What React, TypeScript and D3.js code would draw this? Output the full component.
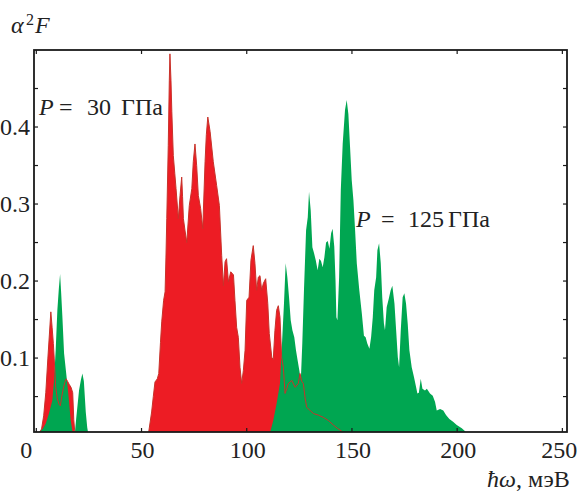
import React from "react";
import * as d3 from "d3";

// Eliashberg spectral function alpha^2F(omega), energies in meV
const redSeries: [number, number][] = [
  [1.0, 0], [2.5, 0.008], [3.5, 0.025], [4.5, 0.055], [5.5, 0.1], [6.2, 0.13], [6.9, 0.16],
  [7.5, 0.14], [8.1, 0.119], [8.5, 0.1], [9.2, 0.062], [10.0, 0.047], [10.8, 0.04], [11.4, 0.038],
  [12.1, 0.05], [12.8, 0.06], [13.5, 0.068], [14.2, 0.073], [14.8, 0.07], [15.6, 0.066], [16.5, 0.062],
  [17.3, 0.055], [17.8, 0.02], [18.4, 0], [52.8, 0],
  [53.2, 0], [54.8, 0.03], [55.6, 0.05], [56.4, 0.069], [57.5, 0.073], [58.2, 0.08], [59.0, 0.12],
  [59.6, 0.147], [60.5, 0.175], [61.2, 0.186], [61.6, 0.23], [62.0, 0.281], [62.7, 0.376], [63.2, 0.46],
  [63.5, 0.495], [64.0, 0.46], [64.4, 0.42], [65.1, 0.363], [65.8, 0.34], [66.4, 0.32], [67.5, 0.281],
  [68.3, 0.311], [69.1, 0.335], [69.5, 0.31], [69.9, 0.281], [70.7, 0.265], [71.5, 0.25], [72.7, 0.298],
  [73.9, 0.32], [74.6, 0.355], [75.4, 0.378], [76.2, 0.35], [77.0, 0.311], [78.1, 0.294], [79.1, 0.268],
  [80.2, 0.355], [80.8, 0.39], [81.5, 0.413], [82.6, 0.394], [84.1, 0.355], [85.7, 0.324], [87.0, 0.298],
  [88.1, 0.233], [88.9, 0.194], [89.7, 0.225], [90.4, 0.229], [91.3, 0.199], [92.4, 0.212], [93.7, 0.208],
  [94.4, 0.175], [95.2, 0.14], [96.0, 0.127], [96.8, 0.088], [97.6, 0.067], [98.4, 0.084], [99.2, 0.11],
  [100.0, 0.175], [101.1, 0.179], [102.0, 0.227], [103.1, 0.246], [103.9, 0.223], [104.7, 0.188],
  [105.5, 0.205], [106.3, 0.207], [107.1, 0.188], [107.9, 0.197], [109.0, 0.203], [110.0, 0.171],
  [110.7, 0.132], [111.9, 0.101], [112.6, 0.098], [113.4, 0.136], [114.2, 0.162], [115.0, 0.168],
  [115.8, 0.153], [116.6, 0.101], [117.4, 0.088], [118.2, 0.054], [119.0, 0.06], [119.8, 0.067],
  [121.4, 0.071], [123.0, 0.062], [124.5, 0.067], [125.3, 0.08], [126.1, 0.07], [126.9, 0.067],
  [127.7, 0.049], [128.5, 0.036], [130.1, 0.032], [131.7, 0.028], [134.0, 0.026], [136.4, 0.023],
  [138.8, 0.019], [141.2, 0.013], [143.0, 0.009], [145.2, 0.005], [146.0, 0],
];

const greenSeries: [number, number][] = [
  [1.0, 0], [1.5, 0.005], [3.0, 0.008], [4.5, 0.015], [6.0, 0.028], [7.6, 0.045], [8.4, 0.07],
  [9.2, 0.11], [10.0, 0.162], [10.7, 0.19], [11.3, 0.209], [11.8, 0.185], [12.4, 0.153], [13.2, 0.106],
  [14.4, 0.075], [15.5, 0.045], [16.3, 0.02], [17.2, 0.004], [17.8, 0], [18.4, 0.005], [18.9, 0.02],
  [20.3, 0.058], [21.2, 0.072], [21.9, 0.08], [22.6, 0.07], [23.5, 0.03], [24.2, 0.01], [24.8, 0],
  [110.8, 0], [112.6, 0.019], [114.2, 0.041], [115.8, 0.067], [116.9, 0.127], [117.7, 0.171],
  [118.5, 0.223], [119.3, 0.205], [120.1, 0.179], [120.9, 0.149], [121.7, 0.136], [122.6, 0.127],
  [123.4, 0.11], [124.2, 0.097], [125.0, 0.084], [125.7, 0.071], [126.4, 0.119], [127.2, 0.188],
  [128.2, 0.266], [129.0, 0.283], [129.6, 0.316], [130.4, 0.292], [131.2, 0.244], [132.0, 0.236],
  [132.8, 0.227], [133.7, 0.214], [134.5, 0.229], [135.3, 0.226], [136.1, 0.218], [136.9, 0.231],
  [137.7, 0.25], [138.5, 0.252], [139.3, 0.242], [140.1, 0.262], [140.8, 0.268], [141.6, 0.245],
  [142.2, 0.2], [142.6, 0.153], [143.1, 0.149], [143.9, 0.205], [144.7, 0.318], [145.6, 0.378],
  [146.7, 0.422], [147.5, 0.435], [148.3, 0.417], [149.1, 0.374], [149.9, 0.331], [150.7, 0.305],
  [151.5, 0.266], [152.3, 0.223], [153.5, 0.188], [154.7, 0.158], [155.7, 0.129], [156.5, 0.127],
  [157.3, 0.119], [158.3, 0.112], [159.1, 0.127], [159.9, 0.153], [160.6, 0.188], [161.5, 0.205],
  [162.1, 0.24], [162.9, 0.249], [163.7, 0.223], [164.4, 0.179], [165.2, 0.145], [165.7, 0.136],
  [166.5, 0.166], [167.5, 0.177], [168.4, 0.188], [169.2, 0.194], [170.2, 0.171], [171.0, 0.136],
  [171.8, 0.101], [172.4, 0.088], [173.2, 0.136], [174.1, 0.179], [174.9, 0.184], [175.7, 0.171],
  [176.5, 0.145], [177.3, 0.11], [178.4, 0.088], [179.5, 0.075], [180.5, 0.062], [181.1, 0.054],
  [181.8, 0.055], [182.7, 0.073], [183.5, 0.06], [184.7, 0.058], [185.6, 0.06], [187.1, 0.054],
  [188.4, 0.051], [189.5, 0.043], [190.3, 0.032], [191.9, 0.034], [193.4, 0.032], [194.7, 0.026],
  [196.3, 0.021], [198.2, 0.017], [199.8, 0.013], [202.2, 0.009], [203.8, 0.005], [204.5, 0],
];

const xTicks = [0, 50, 100, 150, 200, 250];
const yMinorTicks = [0.05, 0.1, 0.15, 0.2, 0.25, 0.3, 0.35, 0.4, 0.45];
const yLabelTicks = [0.1, 0.2, 0.3, 0.4];

const W = 578;
const H = 492;
const L = 34, R = 567, T = 50, B = 432;
const FONT = "'Liberation Serif', 'Times New Roman', serif";
const FS = 24;

export default function App() {
  const x = d3.scaleLinear().domain([-1.1, 252.2]).range([L, R]);
  const y = d3.scaleLinear().domain([0.004, 0.5]).range([B, T]);

  const area = d3
    .area<[number, number]>()
    .x((d) => x(d[0]))
    .y0(y(0))
    .y1((d) => y(d[1]));
  const line = d3
    .line<[number, number]>()
    .x((d) => x(d[0]))
    .y((d) => y(d[1]));

  const tick = 4;
  const labelDx = (v: number) => (v === 0 ? -10 : v === 250 ? -3 : 1);

  return (
    <svg
      width={W}
      height={H}
      style={{ position: "absolute", left: 0, top: 0, background: "#fff" }}
      fontFamily={FONT}
    >
      <defs>
        <clipPath id="plot">
          <rect x={L} y={T} width={R - L} height={B - T} />
        </clipPath>
      </defs>
      <g clipPath="url(#plot)">
        <path d={area(redSeries) ?? ""} fill="#ed1c24" />
        <path d={area(greenSeries) ?? ""} fill="#00a651" />
        <path d={line(redSeries) ?? ""} fill="none" stroke="#c8322a" strokeWidth={1} />
      </g>

      {/* frame */}
      <rect x={L} y={T} width={R - L} height={B - T} fill="none" stroke="#1a1a1a" strokeWidth={1.8} />

      {/* x ticks */}
      {xTicks.map((v) => (
        <g key={"xt" + v}>
          <line x1={x(v)} x2={x(v)} y1={B} y2={B - tick} stroke="#1a1a1a" strokeWidth={1.2} />
          <line x1={x(v)} x2={x(v)} y1={T} y2={T + tick} stroke="#1a1a1a" strokeWidth={1.2} />
          <text x={x(v) + labelDx(v)} y={458} fontSize={FS} textAnchor="middle" fill="#222">
            {v}
          </text>
        </g>
      ))}

      {/* y ticks */}
      {yMinorTicks.map((v) => (
        <g key={"yt" + v}>
          <line x1={L} x2={L + tick} y1={y(v)} y2={y(v)} stroke="#1a1a1a" strokeWidth={1.2} />
          <line x1={R} x2={R - tick} y1={y(v)} y2={y(v)} stroke="#1a1a1a" strokeWidth={1.2} />
        </g>
      ))}
      {yLabelTicks.map((v) => (
        <text key={"yl" + v} x={30} y={y(v) + 8} fontSize={FS} textAnchor="end" fill="#222">
          {v.toFixed(1)}
        </text>
      ))}

      {/* y axis title */}
      <text y={33} fontSize={FS} fill="#222">
        <tspan x={11} fontStyle="italic">α</tspan>
        <tspan x={26} y={25} fontSize={16}>2</tspan>
        <tspan x={35} y={33} fontStyle="italic">F</tspan>
      </text>

      {/* x axis title */}
      <text y={487} fontSize={FS} fill="#222">
        <tspan x={487} fontStyle="italic">ħω</tspan>
        <tspan>, мэВ</tspan>
      </text>

      {/* annotations */}
      <text y={115} fontSize={FS} fill="#222">
        <tspan x={39} fontStyle="italic">P</tspan>
        <tspan x={59}>=</tspan>
        <tspan x={87}>30</tspan>
        <tspan x={121}>ГПа</tspan>
      </text>
      <text y={227} fontSize={FS} fill="#222">
        <tspan x={356} fontStyle="italic">P</tspan>
        <tspan x={381}>=</tspan>
        <tspan x={408}>125</tspan>
        <tspan x={448}>ГПа</tspan>
      </text>
    </svg>
  );
}
